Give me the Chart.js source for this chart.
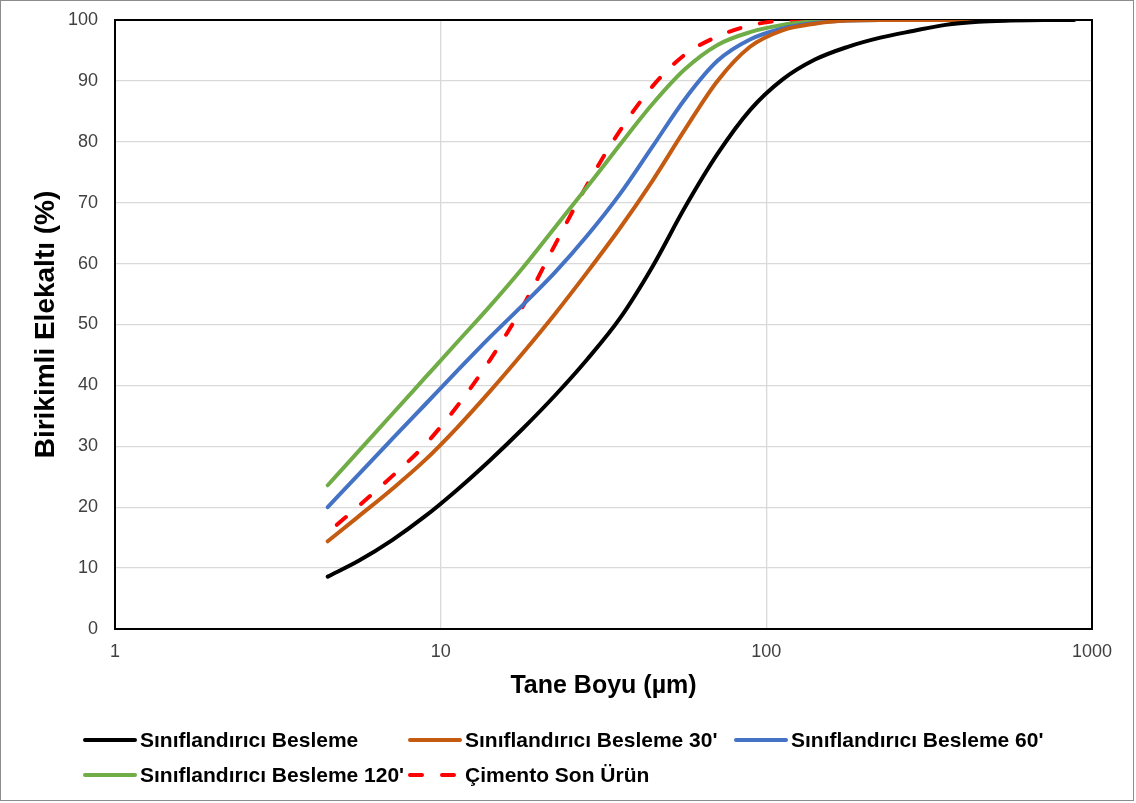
<!DOCTYPE html>
<html>
<head>
<meta charset="utf-8">
<title>Tane Boyu Dağılımı</title>
<script src="https://cdn.jsdelivr.net/npm/chart.js@4.4.1/dist/chart.umd.min.js"></script>
<style>
  html, body { margin: 0; padding: 0; background: #ffffff; }
  #wrap { position: relative; width: 1136px; height: 803px; }
  canvas { display: block; }
</style>
</head>
<body>
<div id="wrap"><canvas id="psd" width="1136" height="803"></canvas></div>
<script>
// Particle sizes (µm) for the classifier feed samples
const sizes = [4.5, 5.6, 7.1, 8.9, 11.2, 14.1, 17.8, 22.4, 28.2, 35.5, 44.7, 56.2, 70.8, 89.1, 112, 141, 178, 224, 282, 355, 447, 562, 708, 880];

// Cumulative passing (%) for each sample
const feed    = [8.6, 11.2, 14.6, 18.4, 22.8, 27.6, 32.8, 38.3, 44.3, 51.0, 59.5, 69.2, 78.0, 85.2, 90.2, 93.5, 95.6, 97.1, 98.2, 99.2, 99.7, 99.9, 100, 100];
const feed30  = [14.4, 18.5, 23.0, 27.6, 33.0, 38.9, 45.2, 51.7, 58.6, 65.8, 73.6, 82.0, 90.0, 95.6, 98.3, 99.4, 99.9, 100, 100, 100, 100, 100, 100, 100];
const feed60  = [20.0, 25.4, 31.2, 36.7, 42.3, 47.8, 53.1, 58.5, 64.6, 71.4, 79.2, 87.0, 93.3, 96.8, 98.6, 99.5, 99.9, 100, 100, 100, 100, 100, 100, 100];
const feed120 = [23.6, 29.2, 35.3, 41.1, 47.0, 52.9, 59.2, 65.9, 72.6, 79.5, 86.2, 91.9, 95.9, 98.0, 99.2, 99.8, 100, 100, 100, 100, 100, 100, 100, 100];

// Final cement product
const cementSizes = [4.8, 5.6, 7.1, 8.9, 11.2, 14.1, 17.8, 22.4, 28.2, 35.5, 44.7, 56.2, 70.8, 89.1, 112, 141, 178, 224, 282, 355, 447, 562, 708, 880];
const cement      = [17.1, 20.2, 25.1, 30.1, 36.5, 44.0, 52.8, 63.0, 73.0, 81.8, 89.1, 94.3, 97.3, 99.1, 99.9, 100, 100, 100, 100, 100, 100, 100, 100, 100];

const xTickValues = [1, 10, 100, 1000];
const yTickStep = 10;

const seriesLabels = [
  'Sınıflandırıcı Besleme',
  "Sınıflandırıcı Besleme 30'",
  "Sınıflandırıcı Besleme 60'",
  "Sınıflandırıcı Besleme 120'",
  'Çimento Son Ürün'
];
const seriesColors = ['#000000', '#c55a11', '#4472c4', '#70ad47', '#ff0000'];

const FONT = "'Liberation Sans', Arial, Helvetica, sans-serif";
const RED_DASH = [12, 20];

function toPoints(xs, ys) {
  return xs.map((x, i) => ({ x: x, y: ys[i] }));
}

const datasets = [
  { label: seriesLabels[0], data: toPoints(sizes, feed) },
  { label: seriesLabels[1], data: toPoints(sizes, feed30) },
  { label: seriesLabels[2], data: toPoints(sizes, feed60) },
  { label: seriesLabels[3], data: toPoints(sizes, feed120) },
  { label: seriesLabels[4], data: toPoints(cementSizes, cement), borderDash: RED_DASH }
].map((d, i) => Object.assign({
  borderColor: seriesColors[i],
  backgroundColor: seriesColors[i],
  borderWidth: 4,
  borderCapStyle: 'round',
  borderJoinStyle: 'round',
  pointRadius: 0,
  fill: false,
  cubicInterpolationMode: 'monotone'
}, d));

// Plot frame, outer border and a two-row legend laid out in columns
const framePlugin = {
  id: 'framePlugin',
  beforeDatasetsDraw(chart) {
    const { ctx, chartArea: a } = chart;
    ctx.save();
    ctx.strokeStyle = '#000000';
    ctx.lineWidth = 2;
    ctx.strokeRect(a.left, a.top, a.right - a.left, a.bottom - a.top);
    ctx.restore();
  },
  afterDraw(chart) {
    const ctx = chart.ctx;
    ctx.save();
    ctx.strokeStyle = '#8c8c8c';
    ctx.lineWidth = 1;
    ctx.strokeRect(0.5, 0.5, 1133, 800);

    const cols = [83, 408, 734];
    const rows = [740, 775];
    ctx.font = 'bold 21px ' + FONT;
    ctx.textBaseline = 'middle';
    ctx.textAlign = 'left';
    chart.data.datasets.forEach((ds, i) => {
      const x0 = cols[i % 3];
      const y = rows[Math.floor(i / 3)];
      ctx.save();
      ctx.strokeStyle = ds.borderColor;
      ctx.lineWidth = 4;
      ctx.lineCap = 'round';
      ctx.setLineDash(ds.borderDash || []);
      ctx.beginPath();
      ctx.moveTo(x0 + 2, y);
      ctx.lineTo(x0 + 52, y);
      ctx.stroke();
      ctx.restore();
      ctx.fillStyle = '#000000';
      ctx.fillText(ds.label, x0 + 57, y + 1);
    });
    ctx.restore();
  }
};

new Chart(document.getElementById('psd'), {
  type: 'line',
  data: { datasets: datasets },
  plugins: [framePlugin],
  options: {
    responsive: false,
    animation: false,
    layout: { padding: { left: 0, right: 44, top: 20, bottom: 94 } },
    plugins: {
      legend: { display: false },
      tooltip: { enabled: false }
    },
    scales: {
      x: {
        type: 'logarithmic',
        min: xTickValues[0],
        max: xTickValues[xTickValues.length - 1],
        afterBuildTicks: (scale) => { scale.ticks = xTickValues.map(v => ({ value: v })); },
        afterFit: (scale) => { scale.height = 80; },
        ticks: {
          autoSkip: false,
          maxRotation: 0,
          padding: 12,
          color: '#404040',
          font: { family: FONT, size: 18 },
          callback: (v) => String(v)
        },
        grid: { color: '#d9d9d9', lineWidth: 1.3, drawTicks: false },
        border: { display: false },
        title: {
          display: true,
          text: 'Tane Boyu (µm)',
          color: '#000000',
          font: { family: FONT, size: 25, weight: 'bold' },
          padding: { top: 0, bottom: 8 }
        }
      },
      y: {
        type: 'linear',
        min: 0,
        max: 100,
        afterFit: (scale) => {
          scale.width = 115;
          scale.paddingTop = 0;
          scale.paddingBottom = 0;
        },
        ticks: {
          stepSize: yTickStep,
          padding: 17,
          color: '#404040',
          font: { family: FONT, size: 18 }
        },
        grid: { color: '#d9d9d9', lineWidth: 1.3, drawTicks: false },
        border: { display: false },
        title: {
          display: true,
          text: 'Birikimli Elekaltı (%)',
          color: '#000000',
          font: { family: FONT, size: 28, weight: 'bold' },
          padding: { top: 29, bottom: 0 }
        }
      }
    }
  }
});
</script>
</body>
</html>
